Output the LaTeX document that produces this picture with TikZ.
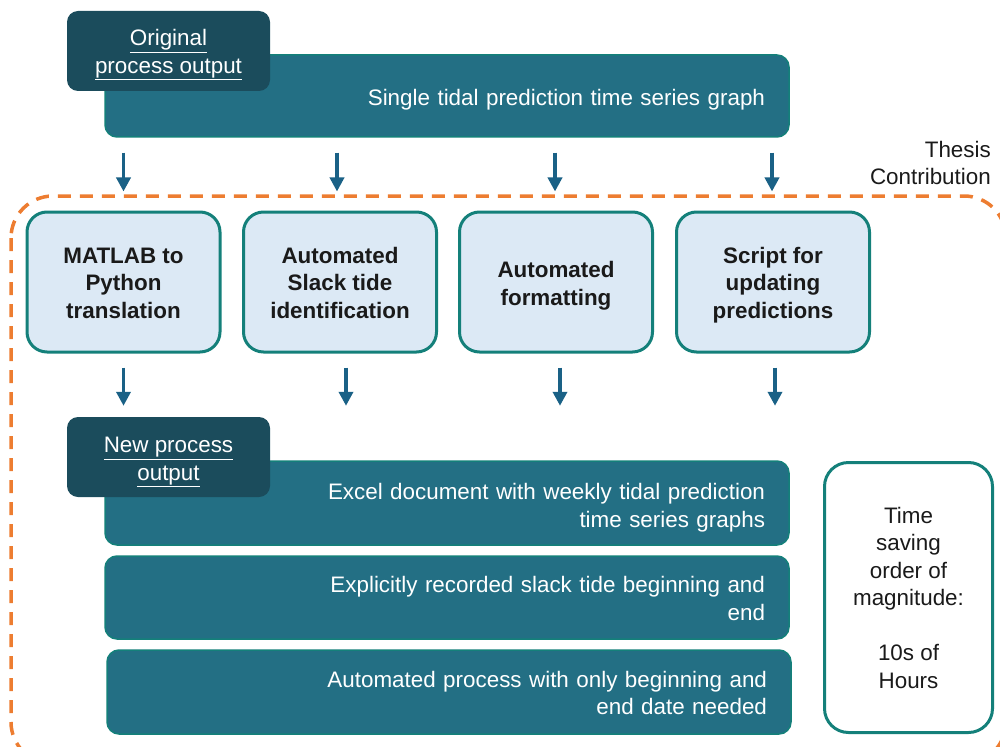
\documentclass[tikz,border=0pt]{standalone}
\usepackage{fontspec}
\setmainfont{Liberation Sans}
\usetikzlibrary{arrows.meta}

\definecolor{barfill}{HTML}{236F84}
\definecolor{tealedge}{HTML}{14807A}
\definecolor{headfill}{HTML}{1B4C5C}
\definecolor{stepfill}{HTML}{DCE9F5}
\definecolor{arrowblue}{HTML}{1A6186}
\definecolor{dashorange}{HTML}{ED7D31}
\definecolor{inktext}{HTML}{1A1A1A}

% strut that pushes a block of lines down inside its box
\newcommand{\pushdown}[1]{\rule{0pt}{#1}}

\tikzset{
  base/.style={font=\fontsize{22.4}{27.5}\selectfont},
  bar/.style={base, draw=tealedge, line width=1.5pt, fill=barfill, text=white,
    rounded corners=12pt, minimum width=684pt, inner xsep=24pt, inner ysep=0pt,
    text width=636pt, align=right},
  header/.style={base, fill=headfill, text=white, rounded corners=11pt,
    minimum width=203pt, minimum height=80pt, align=center, inner sep=0pt},
  stepbox/.style={base, draw=tealedge, line width=3pt, fill=stepfill, text=inktext,
    rounded corners=20pt, minimum width=193pt, minimum height=140pt,
    align=center, font=\fontsize{22.4}{27.5}\selectfont\bfseries, inner sep=0pt},
  savebox/.style={base, draw=tealedge, line width=3pt, fill=white, text=inktext,
    rounded corners=24pt, minimum width=168pt, minimum height=270pt,
    align=center, inner sep=0pt},
  flow/.style={draw=arrowblue, line width=3.5pt,
    -{Triangle[width=14pt,length=14pt]}},
  region/.style={draw=dashorange, line width=3.5pt, dash pattern=on 13pt off 9pt,
    rounded corners=42pt},
}

\begin{document}
\begin{tikzpicture}[x=1pt, y=-1pt]
  \useasboundingbox (0,0) rectangle (1000,746);

  % Thesis contribution region
  \draw[region] (11,196) rectangle (1006,764);
  \node[base, text=inktext, align=right, anchor=north east, inner sep=0pt]
    (thesis) at (991,141) {Thesis\\Contribution};

  % Original process output
  \node[bar, minimum height=82pt] (orig) at (447,96)
    {\pushdown{24pt}Single tidal prediction time series graph};
  \node[header] (origh) at (168.5,51)
    {\pushdown{24pt}\underline{Original}\\\underline{process output}};

  % Contribution steps
  \node[stepbox] (s1) at (123.5,282) {\pushdown{18pt}MATLAB to\\Python\\translation};
  \node[stepbox] (s2) at (340,282) {\pushdown{18pt}Automated\\Slack tide\\identification};
  \node[stepbox] (s3) at (556,282) {\pushdown{24pt}Automated\\formatting};
  \node[stepbox] (s4) at (773,282) {\pushdown{22pt}Script for\\updating\\predictions};

  % New process output
  \node[bar, minimum height=84pt] (out1) at (447,503)
    {\pushdown{26pt}Excel document with weekly tidal prediction\\time series graphs};
  \node[bar, minimum height=83pt] (out2) at (447,597.5)
    {\pushdown{18pt}Explicitly recorded slack tide beginning and\\end};
  \node[bar, minimum height=84pt] (out3) at (449,692)
    {\pushdown{18pt}Automated process with only beginning and\\end date needed};
  \node[header] (newh) at (168.5,457)
    {\pushdown{26pt}\underline{New process}\\\underline{output}};

  % Time saving
  \node[savebox] (save) at (908.5,597.5)
    {Time\\saving\\order of\\magnitude:\\[27.5pt]10s of\\Hours};

  % Arrows into the steps
  \foreach \s/\dx in {s1/0, s2/-3, s3/-1, s4/-1}
    \draw[flow] ([xshift=\dx pt, yshift=-15pt]\s.north |- orig.south)
      -- ([xshift=\dx pt, yshift=19pt]\s.north);

  % Arrows out of the steps
  \draw[flow] ([yshift=-14pt]s1.south) -- ([yshift=11pt]s1.south |- newh.north);
  \foreach \s/\dx in {s2/6, s3/4, s4/2}
    \draw[flow] ([xshift=\dx pt, yshift=-14pt]\s.south)
      -- ([xshift=\dx pt, yshift=11pt]\s.south |- newh.north);
\end{tikzpicture}
\end{document}
